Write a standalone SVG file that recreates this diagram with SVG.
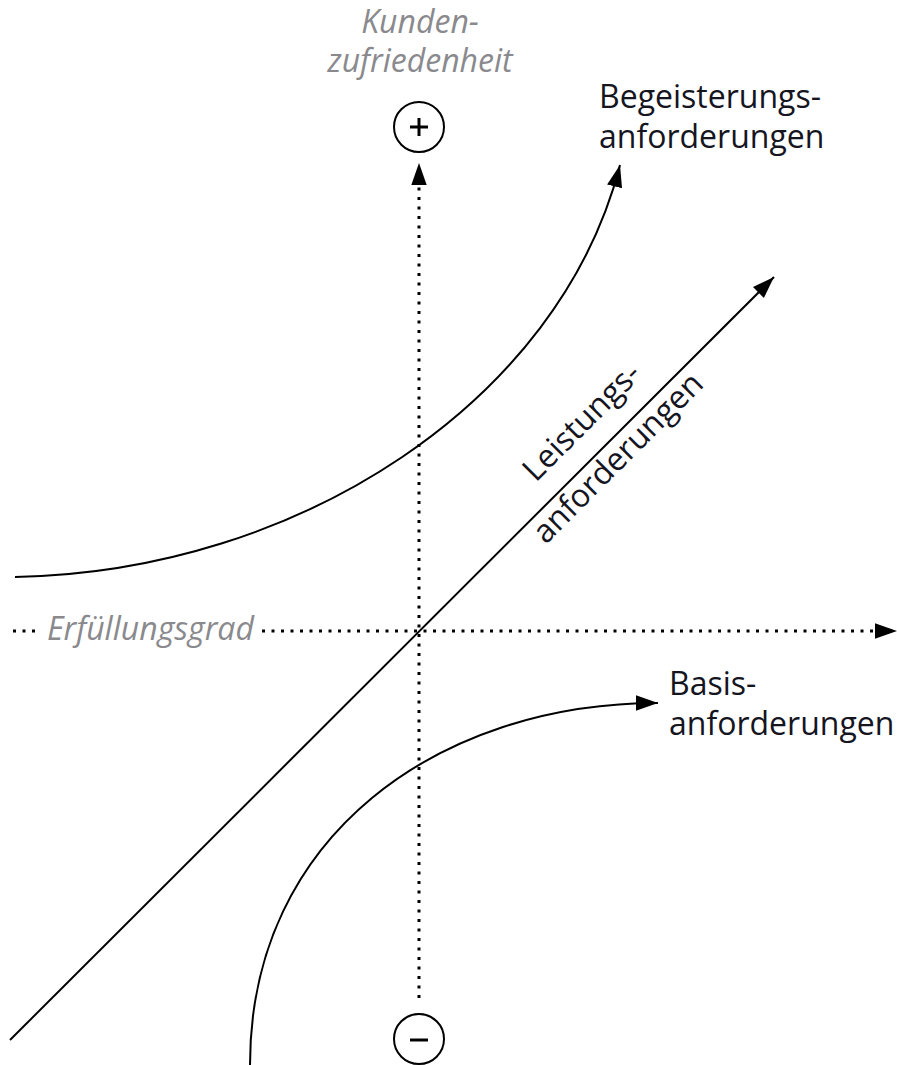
<svg xmlns="http://www.w3.org/2000/svg" width="897" height="1065" viewBox="0 0 897 1065">
<style>
.lbl{font-family:"Open Sans","Noto Sans","Liberation Sans",sans-serif;font-size:32px;fill:#15151f}
.ax{font-family:"Open Sans","Noto Sans","Liberation Sans",sans-serif;font-size:32px;font-style:italic;fill:#8a8a8e}
.dot{fill:none;stroke:#000;stroke-width:3;stroke-dasharray:3 6.5}
.crv{fill:none;stroke:#000;stroke-width:2}
.sign{fill:#fff;stroke:#000;stroke-width:2}
.op{stroke:#000;stroke-width:3;stroke-linecap:butt}
</style>
<defs>
<marker id="arr" viewBox="0 0 10 10" refX="10" refY="5" markerWidth="22" markerHeight="22" markerUnits="userSpaceOnUse" orient="auto">
<path d="M0,1.5 L10,5 L0,8.5 Z" fill="#000"/>
</marker>
</defs>
<rect width="897" height="1065" fill="#fff"/>
<g id="connectors">
<line id="y-axis" class="dot" x1="419" y1="998" x2="419" y2="163" marker-end="url(#arr)"/>
<line id="x-axis-left" class="dot" x1="13" y1="631" x2="40" y2="631"/>
<line id="x-axis" class="dot" x1="262" y1="631" x2="897" y2="631" marker-end="url(#arr)"/>
<path id="begeisterung" class="crv" d="M15,577 C300,572 560,400 620,165" marker-end="url(#arr)"/>
<line id="leistung" class="crv" x1="10" y1="1040" x2="774" y2="277" marker-end="url(#arr)"/>
<path id="basis" class="crv" d="M250,1065 C250,835 440,703 658,703" marker-end="url(#arr)"/>
</g>
<g id="plus">
<circle class="sign" cx="419" cy="127" r="25"/>
<line class="op" x1="410" y1="127" x2="428" y2="127"/>
<line class="op" x1="419" y1="118" x2="419" y2="136"/>
</g>
<g id="minus">
<circle class="sign" cx="419" cy="1039" r="25"/>
<line class="op" x1="410" y1="1040" x2="428" y2="1040"/>
</g>
<g id="kundenzufriedenheit">
<text class="ax" x="420" y="33" text-anchor="middle">Kunden-</text>
<text class="ax" x="420" y="72" text-anchor="middle">zufriedenheit</text>
</g>
<g id="erfuellungsgrad">
<text class="ax" x="47" y="640">Erfüllungsgrad</text>
</g>
<g id="begeisterungsanforderungen">
<text class="lbl" x="599" y="108">Begeisterungs-</text>
<text class="lbl" x="599" y="148">anforderungen</text>
</g>
<g id="basisanforderungen">
<text class="lbl" x="669" y="695">Basis-</text>
<text class="lbl" x="669" y="735">anforderungen</text>
</g>
<g id="leistungsanforderungen" transform="translate(590,430) rotate(-45)">
<text class="lbl" x="0" y="-1" text-anchor="middle">Leistungs-</text>
<text class="lbl" x="0" y="50" text-anchor="middle">anforderungen</text>
</g>
</svg>
